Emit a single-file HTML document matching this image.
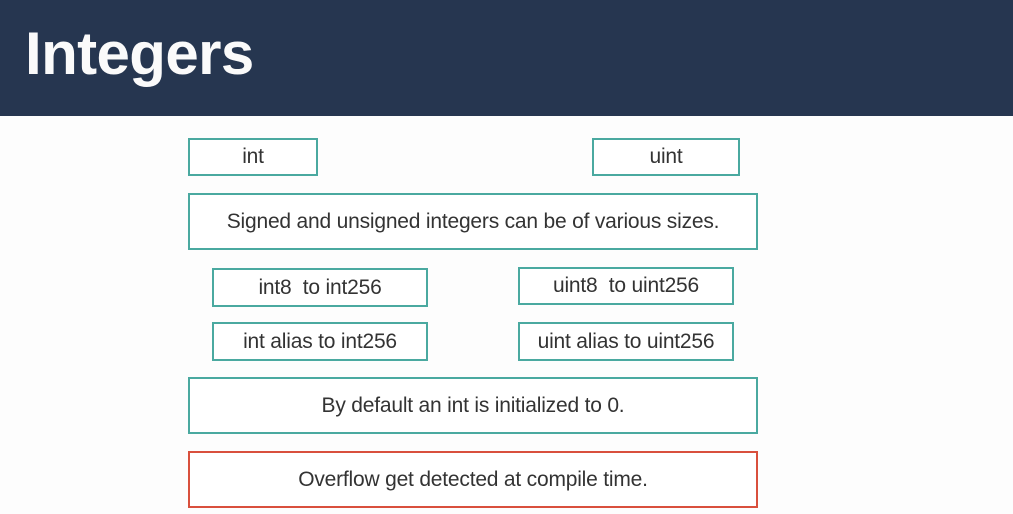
<!DOCTYPE html>
<html><head><style>
body{margin:0;width:1013px;height:514px;background:#fdfdfd;position:relative;overflow:hidden;font-family:"Liberation Sans",sans-serif;}
.hdr{position:absolute;left:0;top:0;width:1013px;height:116px;background:#263650;}
.t{position:absolute;left:25px;top:19px;font-size:60px;font-weight:bold;color:#fafafa;letter-spacing:-0.6px;}
.b{position:absolute;box-sizing:border-box;border:2px solid #4aa9a0;display:flex;align-items:center;justify-content:center;font-size:21px;color:#333;background:#fff;letter-spacing:-0.2px;}
.r{border-color:#d9503d;}
</style></head><body>
<div class="hdr"><div class="t">Integers</div></div>
<div class="b" style="left:188px;top:138px;width:130px;height:38px">int</div>
<div class="b" style="left:592px;top:138px;width:148px;height:38px">uint</div>
<div class="b" style="left:188px;top:193px;width:570px;height:57px">Signed and unsigned integers can be of various sizes.</div>
<div class="b" style="left:212px;top:268px;width:216px;height:39px">int8&nbsp; to int256</div>
<div class="b" style="left:518px;top:267px;width:216px;height:38px">uint8&nbsp; to uint256</div>
<div class="b" style="left:212px;top:322px;width:216px;height:39px">int alias to int256</div>
<div class="b" style="left:518px;top:322px;width:216px;height:39px">uint alias to uint256</div>
<div class="b" style="left:188px;top:377px;width:570px;height:57px">By default an int is initialized to 0.</div>
<div class="b r" style="left:188px;top:451px;width:570px;height:57px">Overflow get detected at compile time.</div>
</body></html>
